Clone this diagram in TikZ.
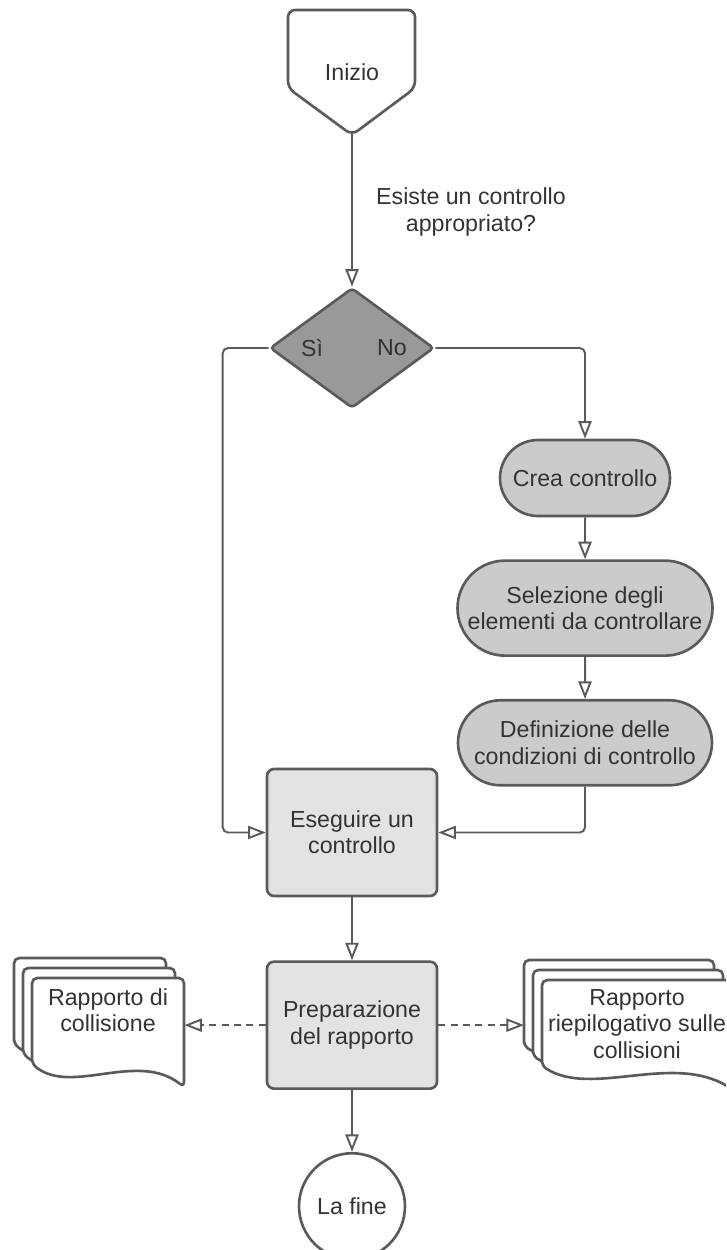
\documentclass[tikz,border=0pt]{standalone}
\usepackage{fontspec}
\setmainfont{Liberation Sans}
\usetikzlibrary{shapes.geometric, shapes.misc, arrows.meta, positioning}
\definecolor{linegray}{HTML}{5A5A5A}
\definecolor{textgray}{HTML}{333333}
\definecolor{darkfill}{HTML}{999999}
\definecolor{midfill}{HTML}{CBCBCB}
\definecolor{lightfill}{HTML}{E3E3E3}
\tikzstyle{txt} = [text=textgray, align=center, font=\fontsize{13.2}{15}\selectfont]
\tikzstyle{decision} = [diamond, draw=linegray, line width=1.5pt, fill=darkfill, minimum width=3.28cm, minimum height=2.4cm, inner sep=0pt, rounded corners=2pt]
\tikzstyle{process} = [rounded rectangle, draw=linegray, line width=1.5pt, fill=midfill, txt, inner sep=0pt]
\tikzstyle{task} = [rectangle, rounded corners=4pt, draw=linegray, line width=1.5pt, fill=lightfill, txt, minimum width=3.4cm, minimum height=2.54cm]
\tikzstyle{terminal} = [circle, draw=linegray, line width=1.5pt, fill=white, txt, minimum size=2.12cm]
\tikzstyle{sheet} = [draw=linegray, line width=1.5pt, fill=white, rounded corners=3pt]
\tikzstyle{arrow} = [line width=1.1pt, draw=linegray, -{Triangle[open, length=10pt, width=7.5pt]}]
\tikzstyle{dasharrow} = [arrow, dash pattern=on 4pt off 3pt]

\begin{document}
\begin{tikzpicture}
\useasboundingbox (0,0) rectangle (14.52,-25);
\clip (0,0) rectangle (14.52,-25);

% start
\draw [sheet, rounded corners=4pt] (5.76,-0.2) -- (8.30,-0.2) -- (8.30,-1.76) -- (7.04,-2.70) -- (5.76,-1.76) -- cycle;
\coordinate (startpt) at (7.04,-2.66);
\node (start) [txt] at (7.04,-1.44) {Inizio};
\node (quest) [txt] at (9.42,-4.24) {Esiste un controllo\\appropriato?};

% decision
\node (dec) [decision] at (7.04,-6.96) {};
\node (si) [txt] at (6.24,-6.96) {Sì};
\node (no) [txt] at (7.84,-6.96) {No};

% right branch
\node (crea) [process, minimum width=3.4cm, minimum height=1.52cm] at (11.7,-9.56) {Crea controllo};
\node (selez) [process, below=0.84cm of crea, minimum width=5.1cm, minimum height=1.9cm] {Selezione degli\\elementi da controllare};
\node (defin) [process, below=0.84cm of selez, minimum width=5.08cm, minimum height=1.7cm] {Definizione delle\\condizioni di controllo};

% main column
\node (exec) [task] at (7.04,-16.65) {Eseguire un\\controllo};
\node (prep) [task, below=1.26cm of exec] {Preparazione\\del rapporto};
\node (fine) [terminal, below=1.24cm of prep] {La fine};

% reports
\begin{scope}[shift={(0.64,-19.56)}]
\foreach \d in {2,1,0}
  \draw [sheet, xshift={-0.18cm*\d}, yshift={0.2cm*\d}] (0,-1.72) -- (0,0) -- (3.04,0) -- (3.04,-2.18) .. controls (2.1,-1.45) and (0.8,-2.35) .. (0,-1.72) -- cycle;
\end{scope}
\node (rapcoll) [txt, minimum width=3.04cm, inner xsep=0pt] at (2.16,-20.2) {Rapporto di\\collisione};

\begin{scope}[shift={(10.84,-19.6)}]
\foreach \d in {2,1,0}
  \draw [sheet, xshift={-0.18cm*\d}, yshift={0.2cm*\d}] (0,-1.72) -- (0,0) -- (3.8,0) -- (3.8,-2.18) .. controls (2.6,-1.45) and (1.0,-2.35) .. (0,-1.72) -- cycle;
\end{scope}
\node (riepilogo) [txt] at (12.74,-20.48) {Rapporto\\riepilogativo sulle\\collisioni};
\coordinate (riepin) at (10.48,-20.44);

% connectors
\draw [arrow] (startpt) -- (dec.north);
\draw [arrow, rounded corners=3pt] (dec.west) -- ++(-0.92,0) |- (exec.west);
\draw [arrow, rounded corners=3pt] (dec.east) -| (crea.north);
\draw [arrow] (crea) -- (selez);
\draw [arrow] (selez) -- (defin);
\draw [arrow, rounded corners=3pt] (defin.south) |- (exec.east);
\draw [arrow] (exec) -- (prep);
\draw [dasharrow] (prep.west) -- (prep.west -| rapcoll.east);
\draw [dasharrow] (prep.east) -- (prep.east -| riepin);
\draw [arrow] (prep) -- (fine);

\end{tikzpicture}
\end{document}
